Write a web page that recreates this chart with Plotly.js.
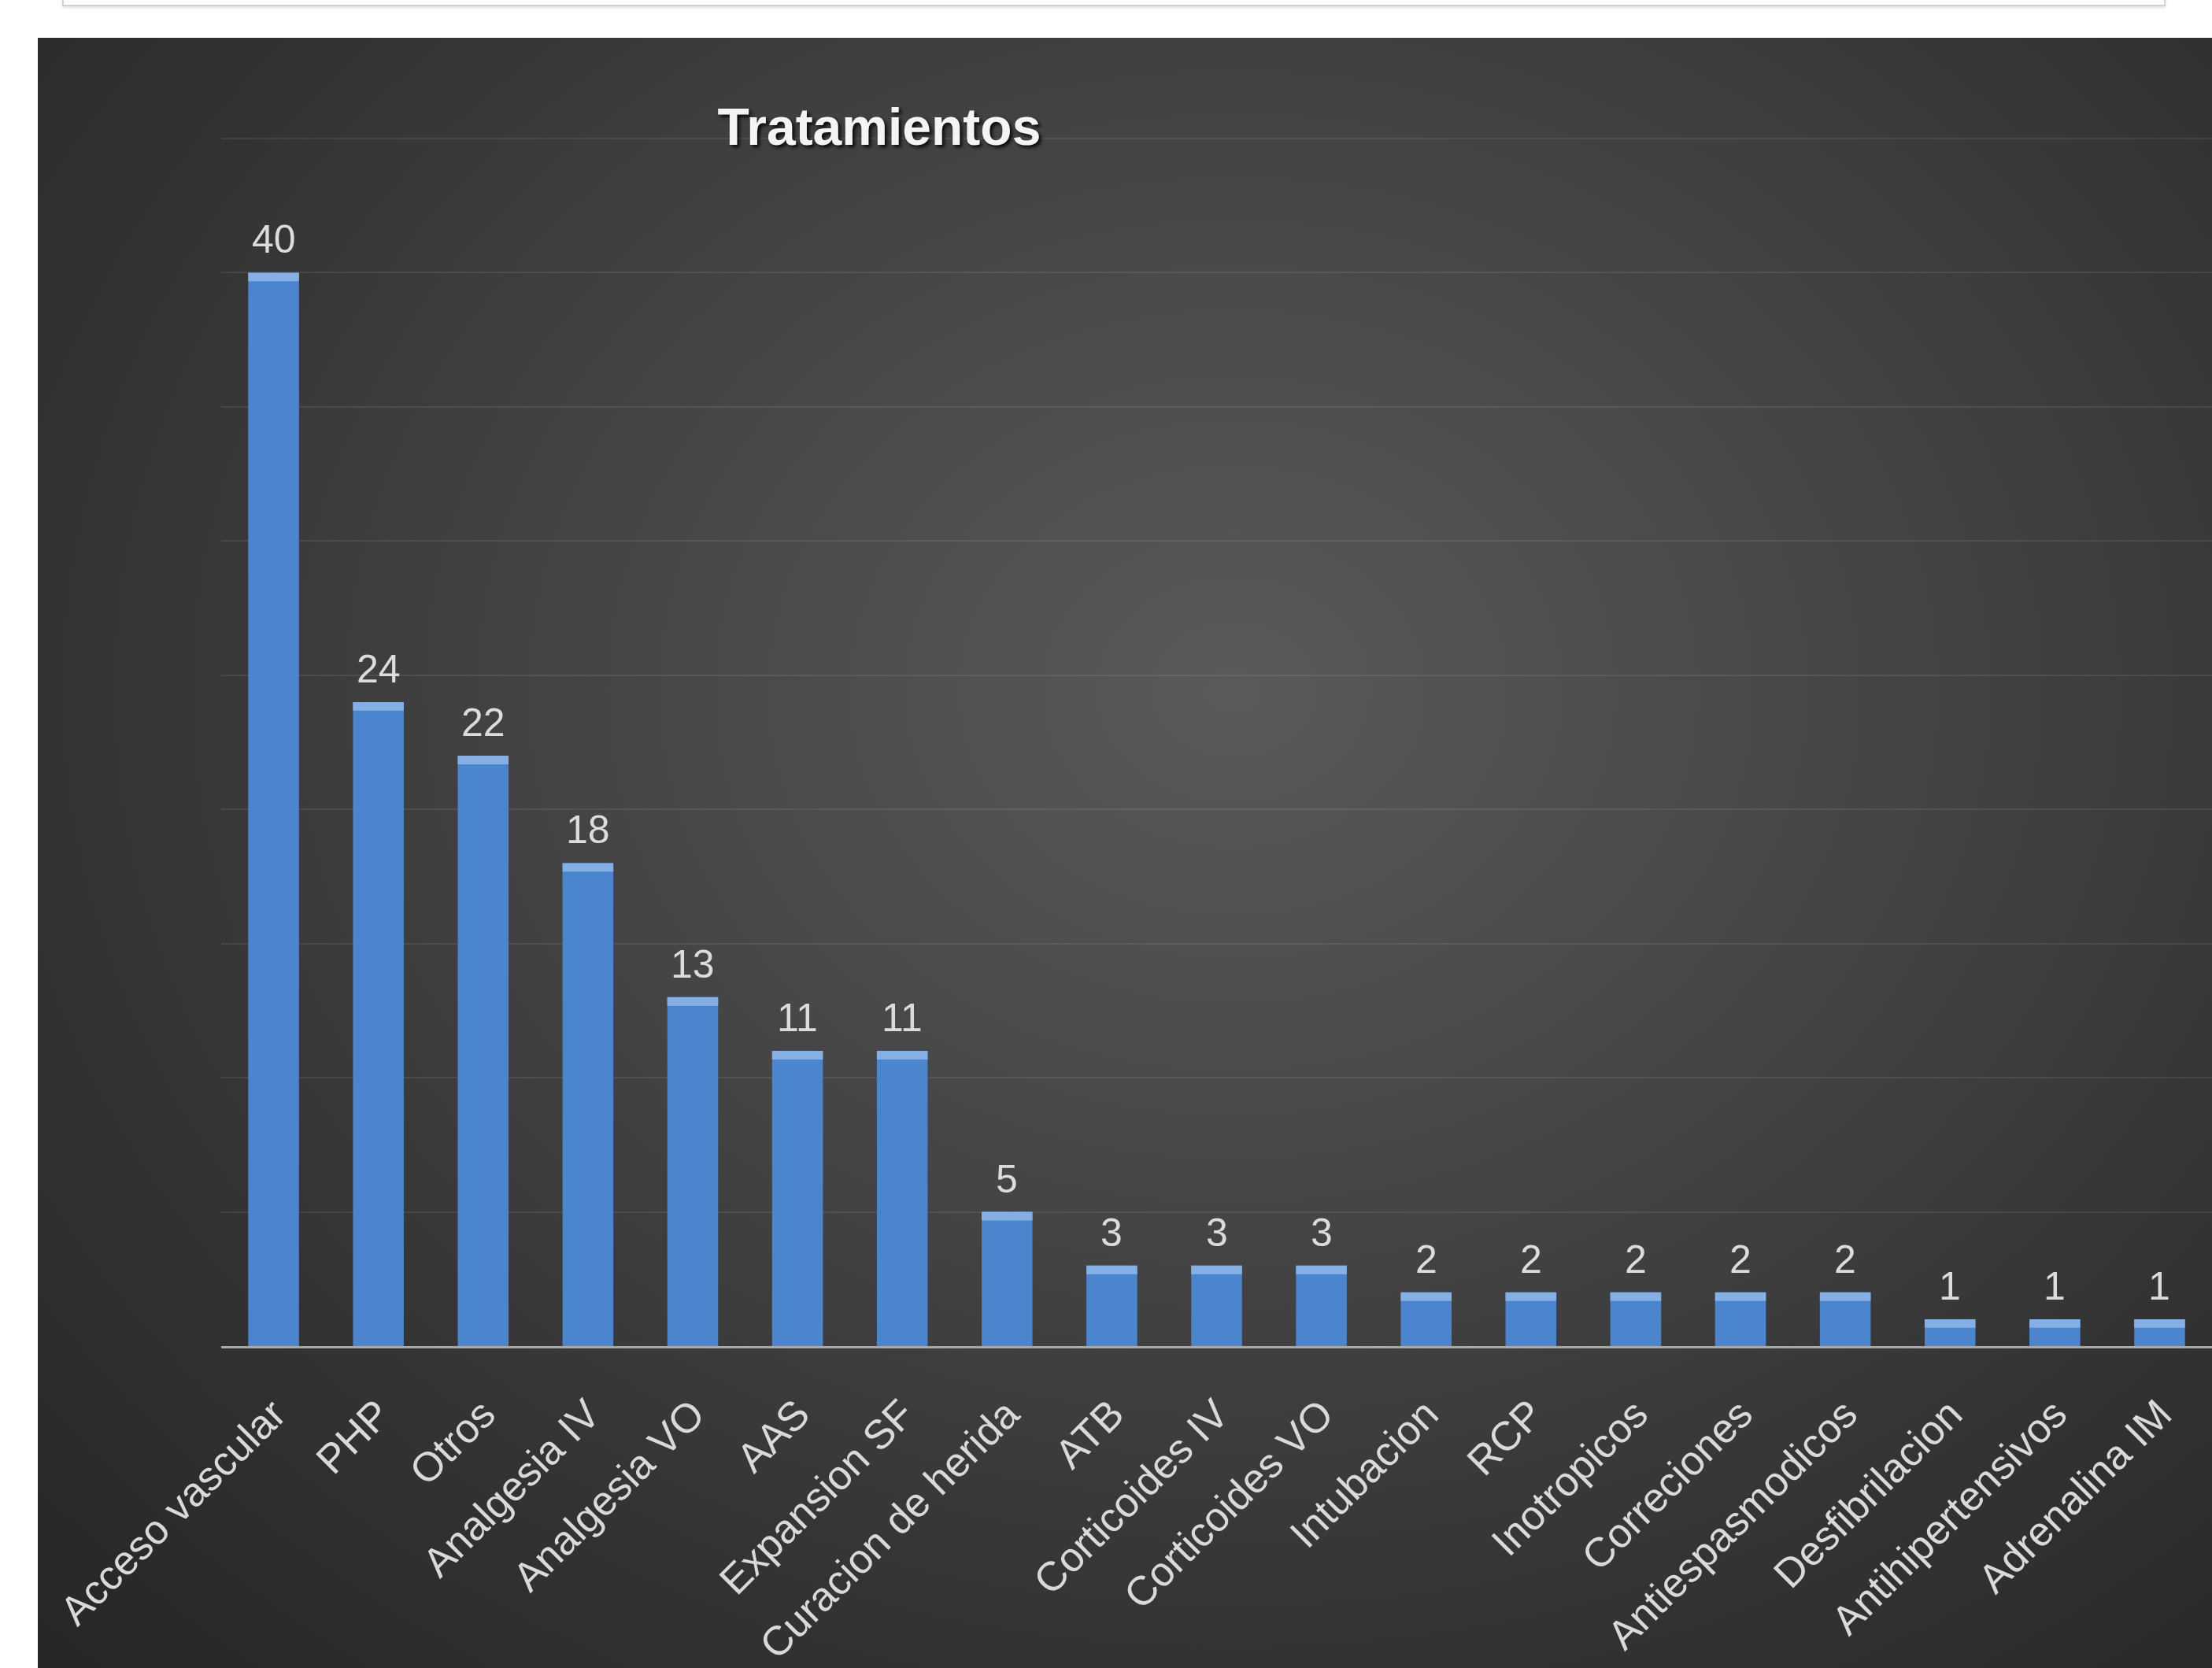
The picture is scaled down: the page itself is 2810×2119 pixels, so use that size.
<!DOCTYPE html>
<html>
<head>
<meta charset="utf-8">
<script src="https://cdn.plot.ly/plotly-3.0.1.min.js"></script>
<style>
  html, body { margin: 0; padding: 0; background: #ffffff; width: 2810px; height: 2119px; overflow: hidden; }
  #topbox { position: absolute; left: 79px; top: -12px; width: 2668px; height: 18px;
            border: 2px solid #d2d2d2; border-top: none; background: #ffffff;
            box-shadow: 0 2px 3px rgba(0,0,0,0.12); }
  #bg { position: absolute; left: 48px; top: 48px; width: 2762px; height: 2071px;
        background: radial-gradient(ellipse farthest-corner at 55% 40%, #5a5a5a 0%, #474747 35%, #333333 70%, #262626 100%); }
  #chart { position: absolute; left: 0; top: 0; width: 2810px; height: 2119px; }
</style>
</head>
<body>
<div id="topbox"></div>
<div id="bg"></div>
<div id="chart"></div>
<script>
const categories = ["Acceso vascular","PHP","Otros","Analgesia IV","Analgesia VO","AAS","Expansion SF","Curacion de herida","ATB","Corticoides IV","Corticoides VO","Intubacion","RCP","Inotropicos","Correciones","Antiespasmodicos","Desfibrilacion","Antihipertensivos","Adrenalina IM"];
const values = [40,24,22,18,13,11,11,5,3,3,3,2,2,2,2,2,1,1,1];
const chartTitle = "Tratamientos";

const capH = 0.32;
const font = "Liberation Sans, Arial, sans-serif";

const mainBars = {
  type: "bar",
  x: categories,
  y: values,
  marker: { color: "#4a85cd", line: { width: 0 } },
  hoverinfo: "x+y"
};
const capBars = {
  type: "bar",
  x: categories,
  y: values.map(() => capH),
  base: values.map(v => v - capH),
  marker: { color: "#86b0e4", line: { width: 0 } },
  hoverinfo: "skip"
};

const annotations = categories.map((c, i) => ({
  x: c, y: values[i], xref: "x", yref: "y",
  text: String(values[i]), showarrow: false,
  yanchor: "bottom", yshift: 12,
  font: { family: font, size: 50, color: "#dcdcdc" }
}));

const layout = {
  width: 2810, height: 2119,
  paper_bgcolor: "rgba(0,0,0,0)",
  plot_bgcolor: "rgba(0,0,0,0)",
  margin: { l: 281, r: 0, t: 175, b: 409, pad: 0 },
  showlegend: false,
  barmode: "overlay",
  bargap: 0.515,
  title: {
    text: "<b>" + chartTitle + "</b>",
    x: 0.3975, xref: "container", xanchor: "center",
    y: 0.924, yref: "container", yanchor: "middle",
    font: { family: font, size: 66, color: "#f4f4f4", shadow: "3px 3px 4px rgba(0,0,0,0.85)" }
  },
  xaxis: {
    type: "category",
    range: [-0.5, 18.5],
    showgrid: false,
    showline: true, linecolor: "#a8a8a8", linewidth: 3,
    ticks: "outside", ticklen: 32, tickcolor: "rgba(0,0,0,0)",
    tickangle: -45,
    tickfont: { family: font, size: 52, color: "#d9d9d9" },
    zeroline: false, fixedrange: true
  },
  yaxis: {
    range: [0, 45.03], dtick: 5, tick0: 0,
    showticklabels: false, ticks: "",
    showgrid: true, gridcolor: "rgba(255,255,255,0.08)", gridwidth: 2,
    zeroline: false, showline: false, fixedrange: true
  },
  annotations: annotations
};

Plotly.newPlot("chart", [mainBars, capBars], layout, { displayModeBar: false, staticPlot: true });
</script>
</body>
</html>
